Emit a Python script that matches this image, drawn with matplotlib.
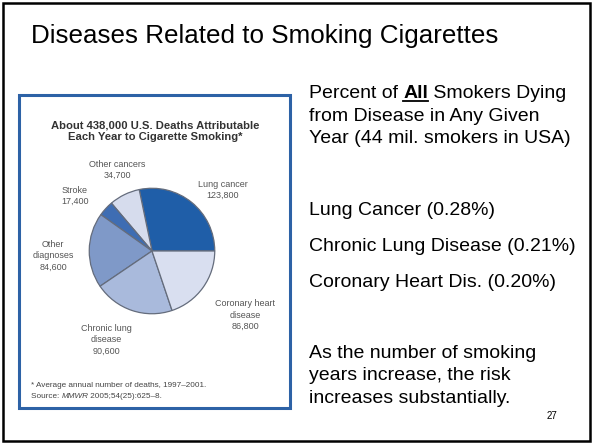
import matplotlib
matplotlib.use("Agg")
import matplotlib.pyplot as plt
from matplotlib.patches import Rectangle

# ---- data ----
categories = ["Lung cancer", "Other cancers", "Stroke", "Other diagnoses",
              "Chronic lung disease", "Coronary heart disease"]
label_names = ["Lung cancer", "Other cancers", "Stroke", "Other\ndiagnoses",
               "Chronic lung\ndisease", "Coronary heart\ndisease"]
deaths = [123800, 34700, 17400, 84600, 90600, 86800]
slide_title = "Diseases Related to Smoking Cigarettes"
chart_title = "About 438,000 U.S. Deaths Attributable\nEach Year to Cigarette Smoking*"
percent_items = ["Lung Cancer (0.28%)", "Chronic Lung Disease (0.21%)",
                 "Coronary Heart Dis. (0.20%)"]
closing_lines = ["As the number of smoking", "years increase, the risk",
                 "increases substantially."]
page_number = "27"

# ---- styles / positions ----
W, H = 592, 443
colors = ["#1f5ea8", "#d6dced", "#3e6db3", "#7f99c8", "#a9badc", "#d9dff0"]
label_pos = [(223, 190), (117, 170), (75, 196), (53, 256), (106, 340), (245, 315)]
FONT = "Liberation Sans"

fig = plt.figure(figsize=(W / 100, H / 100), dpi=100)
bg = fig.add_axes([0, 0, 1, 1])
bg.set_xlim(0, W)
bg.set_ylim(H, 0)
bg.axis("off")

# slide border
bg.add_patch(Rectangle((2.5, 2.5), W - 5, H - 5, fill=False, lw=1.8, ec="black"))
# chart box
bg.add_patch(Rectangle((18.5, 95), 271, 313, fill=False, lw=2.2, ec="#2d62a6"))

# slide title
bg.text(265, 43, slide_title, ha="center", va="baseline", fontsize=18.7,
        family=FONT, color="black")

# pie
cx, cy, r = 152, 251, 64
pax = fig.add_axes([(cx - r) / W, (H - cy - r) / H, 2 * r / W, 2 * r / H])
pax.pie(deaths, colors=colors, startangle=0, counterclock=True,
        wedgeprops=dict(edgecolor="#646c7c", linewidth=0.9))
pax.set_xlim(-1.02, 1.02)
pax.set_ylim(-1.02, 1.02)

# pie chart title
bg.text(155, 131, chart_title, ha="center", va="center", fontsize=8.1,
        fontweight="bold", family=FONT, color="#333333", linespacing=1.15)

# pie labels
for name, val, (lx, ly) in zip(label_names, deaths, label_pos):
    bg.text(lx, ly, f"{name}\n{val:,}", ha="center", va="center", fontsize=6.5,
            family=FONT, color="#555555", linespacing=1.3)

# footnote
FS_NOTE = 5.9
bg.text(31, 387, "* Average annual number of deaths, 1997\u20132001.",
        ha="left", va="baseline", fontsize=FS_NOTE, family=FONT, color="#444444")
renderer = fig.canvas.get_renderer()
t1 = bg.text(31, 398, "Source: ", ha="left", va="baseline", fontsize=FS_NOTE,
             family=FONT, color="#444444")
inv = bg.transData.inverted()
def right_edge(t):
    bb = t.get_window_extent(renderer)
    return inv.transform((bb.x1, bb.y0))[0]
x = right_edge(t1)
t2 = bg.text(x, 398, "MMWR", ha="left", va="baseline", fontsize=FS_NOTE,
             family=FONT, color="#444444", style="italic")
x = right_edge(t2)
bg.text(x, 398, " 2005;54(25):625\u20138.", ha="left", va="baseline",
        fontsize=FS_NOTE, family=FONT, color="#444444")

# right column text
fs = 14
xr = 309
a = bg.text(xr, 98, "Percent of ", ha="left", va="baseline", fontsize=fs, family=FONT)
xa = right_edge(a)
b = bg.text(xa, 98, "All", ha="left", va="baseline", fontsize=fs, family=FONT,
            fontweight="bold")
xb = right_edge(b)
bg.plot([xa, xb], [100.5, 100.5], color="black", lw=1.3)
bg.text(xb, 98, " Smokers Dying", ha="left", va="baseline", fontsize=fs, family=FONT)
bg.text(xr, 121, "from Disease in Any Given", ha="left", va="baseline",
        fontsize=fs, family=FONT)
bg.text(xr, 143, "Year (44 mil. smokers in USA)", ha="left", va="baseline",
        fontsize=fs, family=FONT)

for i, item in enumerate(percent_items):
    bg.text(xr, 215 + 36 * i, item, ha="left", va="baseline", fontsize=fs, family=FONT)

for i, line in enumerate(closing_lines):
    bg.text(xr, 358 + 22.5 * i, line, ha="left", va="baseline", fontsize=fs, family=FONT)

bg.text(552, 419, page_number, ha="center", va="baseline", fontsize=7, family=FONT)

fig.savefig("out.png", dpi=100)
